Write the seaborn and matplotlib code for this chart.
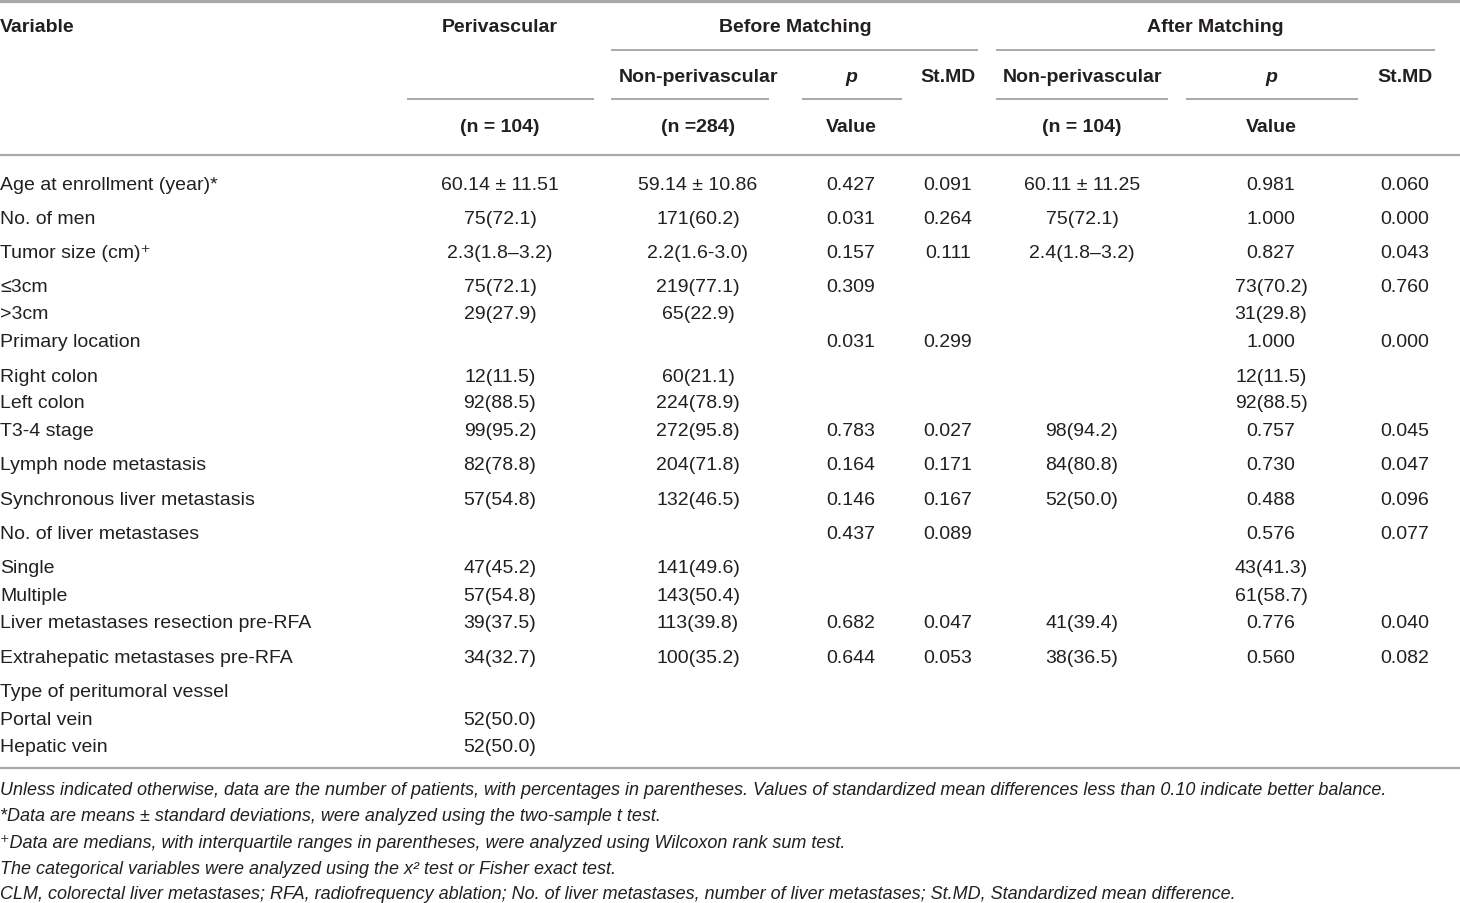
import matplotlib
matplotlib.use("Agg")
import matplotlib.pyplot as plt
import seaborn as sns

# table content
variables = [
    "Age at enrollment (year)*", "No. of men", "Tumor size (cm)\u207a", "\u22643cm", ">3cm",
    "Primary location", "Right colon", "Left colon", "T3-4 stage", "Lymph node metastasis",
    "Synchronous liver metastasis", "No. of liver metastases", "Single", "Multiple",
    "Liver metastases resection pre-RFA", "Extrahepatic metastases pre-RFA",
    "Type of peritumoral vessel", "Portal vein", "Hepatic vein",
]
perivascular = ["60.14 \u00b1 11.51", "75(72.1)", "2.3(1.8\u20133.2)", "75(72.1)", "29(27.9)",
                "", "12(11.5)", "92(88.5)", "99(95.2)", "82(78.8)", "57(54.8)", "",
                "47(45.2)", "57(54.8)", "39(37.5)", "34(32.7)", "", "52(50.0)", "52(50.0)"]
before_non = ["59.14 \u00b1 10.86", "171(60.2)", "2.2(1.6-3.0)", "219(77.1)", "65(22.9)",
              "", "60(21.1)", "224(78.9)", "272(95.8)", "204(71.8)", "132(46.5)", "",
              "141(49.6)", "143(50.4)", "113(39.8)", "100(35.2)", "", "", ""]
before_p = ["0.427", "0.031", "0.157", "0.309", "", "0.031", "", "", "0.783", "0.164",
            "0.146", "0.437", "", "", "0.682", "0.644", "", "", ""]
before_smd = ["0.091", "0.264", "0.111", "", "", "0.299", "", "", "0.027", "0.171",
              "0.167", "0.089", "", "", "0.047", "0.053", "", "", ""]
after_non = ["60.11 \u00b1 11.25", "75(72.1)", "2.4(1.8\u20133.2)", "", "", "", "", "",
             "98(94.2)", "84(80.8)", "52(50.0)", "", "", "", "41(39.4)", "38(36.5)", "", "", ""]
after_p = ["0.981", "1.000", "0.827", "73(70.2)", "31(29.8)", "1.000", "12(11.5)", "92(88.5)",
           "0.757", "0.730", "0.488", "0.576", "43(41.3)", "61(58.7)", "0.776", "0.560", "", "", ""]
after_smd = ["0.060", "0.000", "0.043", "0.760", "", "0.000", "", "", "0.045", "0.047",
             "0.096", "0.077", "", "", "0.040", "0.082", "", "", ""]

footnotes = [
    "Unless indicated otherwise, data are the number of patients, with percentages in parentheses. "
    "Values of standardized mean differences less than 0.10 indicate better balance.",
    "*Data are means \u00b1 standard deviations, were analyzed using the two-sample t test.",
    "\u207aData are medians, with interquartile ranges in parentheses, were analyzed using Wilcoxon rank sum test.",
    "The categorical variables were analyzed using the x\u00b2 test or Fisher exact test.",
    "CLM, colorectal liver metastases; RFA, radiofrequency ablation; No. of liver metastases, "
    "number of liver metastases; St.MD, Standardized mean difference.",
]

# layout (pixel coordinates)
row_y = [185, 219, 254, 288, 315, 343, 378, 404, 432, 466, 501, 535, 569, 597, 624, 659, 693, 721, 748]
col_x = [500, 698, 851, 948, 1082, 1271, 1405]
foot_y = [791, 817, 844, 870, 895]

sns.set_theme(style="white")
plt.rcParams["font.family"] = ["Liberation Sans", "DejaVu Sans"]

fig = plt.figure(figsize=(14.6, 9.04), dpi=100)
ax = fig.add_axes([0, 0, 1, 1])
ax.set_xlim(0, 1460)
ax.set_ylim(904, 0)
ax.axis("off")

txt = "#231f20"
rule = "#a7a9ac"
fs = 14

# header
hdr = dict(fontsize=fs, fontweight="bold", color=txt, va="center")
ax.text(0, 28, "Variable", ha="left", **hdr)
ax.text(500, 28, "Perivascular", ha="center", **hdr)
ax.text(795, 28, "Before Matching", ha="center", **hdr)
ax.text(1215, 28, "After Matching", ha="center", **hdr)
row2 = ["Non-perivascular", "p", "St.MD", "Non-perivascular", "p", "St.MD"]
for x, s in zip(col_x[1:], row2):
    ax.text(x, 78, s, ha="center", style="italic" if s == "p" else "normal", **hdr)
row3 = {500: "(n = 104)", 698: "(n =284)", 851: "Value", 1082: "(n = 104)", 1271: "Value"}
for x, s in row3.items():
    ax.text(x, 128, s, ha="center", **hdr)

# rules
ax.hlines(2, 0, 1460, color=rule, lw=3)
ax.hlines(156, 0, 1460, color=rule, lw=1.6)
ax.hlines(769, 0, 1460, color=rule, lw=1.6)
ax.hlines([51, 51], [611, 996], [978, 1435], color=rule, lw=1.4)
ax.hlines([100] * 5, [407, 611, 802, 996, 1186], [594, 769, 902, 1168, 1358], color=rule, lw=1.4)

# body
cols = [perivascular, before_non, before_p, before_smd, after_non, after_p, after_smd]
for i, y in enumerate(row_y):
    ax.text(0, y, variables[i], ha="left", va="center", fontsize=fs, color=txt)
    for x, col in zip(col_x, cols):
        if col[i]:
            ax.text(x, y, col[i], ha="center", va="center", fontsize=fs, color=txt)

for y, s in zip(foot_y, footnotes):
    ax.text(0, y, s, ha="left", va="center", fontsize=13, style="italic", color=txt)

fig.savefig("out.png", dpi=100, facecolor="white")
